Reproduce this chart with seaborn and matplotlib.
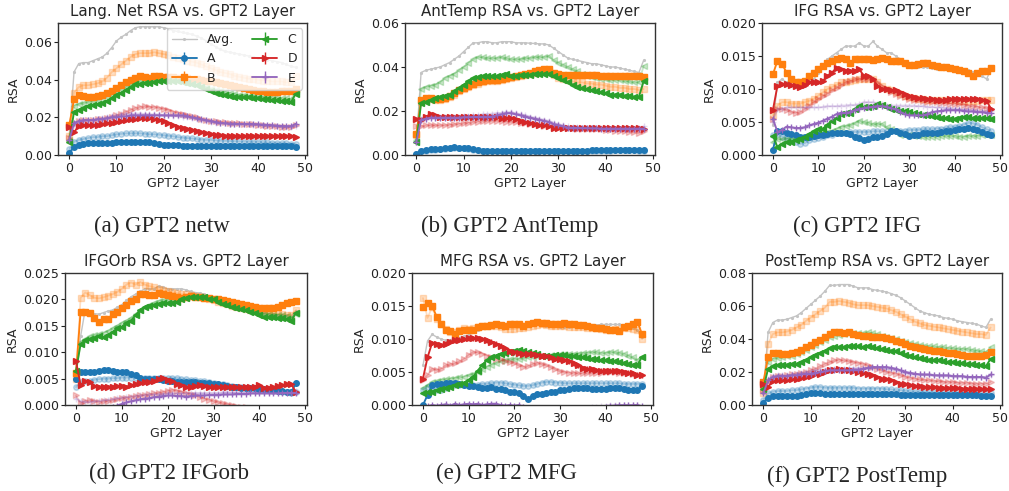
import numpy as np
import pandas as pd
import matplotlib
matplotlib.use("Agg")
import matplotlib.pyplot as plt
import seaborn as sns

# RSA values, in units of 1e-3, layers 0..48
layers = list(range(49))

# --- Lang. Net ---
netw_avg = [10, 44, 48.5, 49, 49, 50, 51, 52, 54, 57, 60.5, 62.5, 64, 66, 67.5, 68, 68, 68, 68, 68, 67.5, 67, 66, 65.5, 65, 64.5, 64, 63, 62, 60.5, 59, 57.5, 56, 55, 54.5, 54, 53.5, 53, 52.5, 52, 51.5, 51, 50.5, 50, 49.5, 49, 48, 47, 46.5]
netw_A = [1, 4.5, 5.5, 6, 6.3, 6.5, 6.5, 6.5, 6.5, 6.6, 7, 7, 7.1, 7, 7, 6.8, 6.8, 6.7, 6.3, 5.8, 5.5, 5.3, 5.2, 5.1, 5, 5, 5, 4.9, 4.9, 4.8, 4.8, 4.8, 4.8, 4.8, 4.8, 4.8, 4.8, 4.9, 4.9, 5, 5, 5, 5, 4.9, 4.9, 4.8, 4.7, 4.6, 4.5]
netw_B = [16, 29.5, 32, 31.5, 30.5, 31, 31.5, 32, 33, 34, 35.5, 37, 38.5, 40, 41, 42, 41.5, 41, 42, 42, 41.5, 41.5, 41.5, 41, 41, 41, 40.5, 40.5, 40, 39.5, 39, 38.5, 38, 37.5, 37, 36.5, 36, 35.5, 35, 34.5, 34, 34, 33.5, 33.5, 33.5, 34, 34, 34, 35]
netw_C = [7, 23, 24, 25, 26, 26.5, 27, 27.5, 28.5, 30, 32, 33, 34.5, 36, 37.5, 37.5, 38, 38, 38.5, 39, 39.5, 39.5, 39, 39, 38.5, 38, 37.5, 37, 36, 35, 34, 33, 32.5, 32, 31.5, 31, 31, 30.5, 30.5, 30, 30, 29.5, 29.5, 29, 29, 28.5, 28.5, 28, 32.5]
netw_D = [15, 12, 15.5, 16, 16, 16, 16, 16.5, 17, 17, 17.5, 18, 18.5, 19, 19, 19.5, 19.5, 19.5, 19, 18.5, 18, 17, 16, 15, 14.5, 14, 13.5, 12.5, 12, 11.5, 11, 10.5, 10.5, 10.3, 10.3, 10.2, 10.2, 10.2, 10.2, 10.2, 10.2, 10.2, 10.2, 10.2, 10.2, 10.2, 10.2, 10.1, 9.8]
netw_E = [8, 17, 18, 18.5, 18.5, 18.5, 19, 19, 19.5, 20, 20, 20.5, 20.5, 21, 21, 21, 21, 21, 21, 21, 21, 21, 21, 21, 21, 20.5, 20, 19.5, 19, 18.5, 18, 17.5, 17, 16.8, 16.7, 16.6, 16.5, 16.5, 16.5, 16.4, 16.3, 16.1, 16, 15.8, 15.6, 15.4, 15.3, 15.3, 16.5]
netw_A_f = [3, 7, 8, 8.5, 9, 9.5, 9.5, 10, 10, 10.5, 11, 11.2, 11.5, 11.5, 11.5, 11.5, 11.3, 11, 11, 10.8, 10.5, 10.2, 10, 9.5, 9.2, 9, 8.8, 8.5, 8.2, 8, 8, 7.8, 7.6, 7.5, 7.4, 7.3, 7.2, 7.1, 7, 7, 7, 6.8, 6.7, 6.6, 6.5, 6.4, 6.2, 6, 6]
netw_B_f = [10, 33, 36, 37, 37, 37.5, 38, 39, 41, 44, 46, 48, 50, 52, 53.5, 54, 54, 54, 54.5, 54, 53.5, 53, 52, 51.5, 51, 50, 49.5, 49, 48, 47, 46, 45, 44, 43.5, 43, 42, 41.5, 41, 40.5, 40.5, 40, 39.5, 39.5, 39, 39, 39, 38.5, 38.5, 42]
netw_C_f = [8, 26, 27, 27.5, 28, 28.5, 29, 30, 31, 32, 33.5, 35, 36, 37, 38.5, 39, 39.5, 39.5, 40, 40, 40, 40, 39.5, 39, 38.5, 38, 37.5, 37, 36.5, 36, 35, 34.5, 34, 33.5, 33, 32.5, 32, 32, 31.5, 31.5, 31, 31, 30.5, 30.5, 30.5, 30, 30, 29.5, 34]
netw_D_f = [9, 17, 18, 18.5, 18.5, 18.5, 19, 19, 19.5, 20, 21, 22, 23, 24, 25, 25.5, 25.8, 25.5, 25.5, 25, 24.5, 24, 23, 22.5, 22, 21, 20.5, 20, 19, 18.5, 18, 17.8, 17.5, 17.3, 17, 17, 16.8, 16.6, 16.4, 16.2, 16, 15.8, 15.6, 15.4, 15.2, 15, 15, 15, 16]
netw_E_f = [8, 16, 17.5, 18, 18.5, 18.5, 19, 19.5, 20, 20.5, 21, 21.5, 22, 22, 22, 22, 21.8, 21.6, 21.5, 21.5, 21.3, 21, 20.8, 20.5, 20.2, 20, 19.5, 19, 18.5, 18, 17.5, 17.2, 17, 16.8, 16.6, 16.5, 16.4, 16.3, 16.2, 16, 16, 15.8, 15.6, 15.4, 15.2, 15, 15, 15, 15.5]
netw_err = [0.3, 0.4, 0.4, 0.4, 0.3]

# --- AntTemp ---
ant_avg = [6, 37.5, 38.5, 39, 39.5, 40, 41, 42, 43.5, 45, 47, 49, 51, 51, 51.5, 51.5, 51, 51, 51.5, 51.5, 51.5, 51, 51, 51, 50.8, 50.7, 50.5, 50.5, 50, 48.5, 47, 45.5, 44, 43.5, 43, 42.5, 42, 41.5, 41.5, 41, 40.5, 40, 40, 39.5, 39, 38.5, 38, 37.5, 43]
ant_A = [0.5, 2, 2.3, 2.6, 2.8, 2.9, 3.1, 3.3, 3.5, 3.3, 3.2, 3, 2.7, 2.4, 2, 1.8, 1.7, 1.8, 1.8, 1.9, 1.9, 1.9, 1.9, 1.9, 1.9, 1.9, 1.9, 1.9, 1.9, 1.9, 1.9, 2, 2, 2, 2, 2, 2, 2.1, 2.1, 2.1, 2.2, 2.2, 2.3, 2.3, 2.3, 2.3, 2.3, 2.2, 2.2]
ant_B = [9.5, 25, 26, 26, 25.5, 25.5, 26, 27, 28, 29.5, 30.5, 31.5, 32.5, 33, 33.5, 34, 34, 34, 34.5, 35, 35.5, 36, 36.5, 37, 37.5, 38, 38.5, 39, 39, 37.5, 37, 36.5, 36.5, 36.5, 36.5, 36.5, 36.5, 36.3, 36.2, 36, 36, 36, 36, 36, 36, 36, 36, 36, 35.5]
ant_C = [6, 23.5, 24, 25, 26, 26.5, 27, 27.5, 29, 30.5, 32, 33.5, 35, 35.5, 36, 36, 36, 36, 36.5, 37, 36, 36, 36.5, 36.5, 36.5, 37, 37, 37, 37, 36, 35, 34, 33, 32, 31, 30.5, 30, 29.5, 29, 28.5, 28, 27.5, 27.5, 27.5, 27, 27, 26.5, 26.5, 33.5]
ant_D = [16.5, 16, 17.5, 18.5, 18, 17.5, 17.5, 17.5, 17.5, 17.5, 17.5, 17.5, 17.5, 17.5, 17.5, 17.5, 17.5, 17.5, 17, 17, 17, 16.5, 15.5, 15, 14.5, 14, 13.5, 13.5, 13, 12.5, 12.3, 12.2, 12.2, 12.2, 12.2, 12.3, 12.3, 12.3, 12.3, 12.3, 12.4, 12.4, 12.4, 12.4, 12.4, 12.4, 12.4, 12.3, 12]
ant_E = [6, 16, 16.5, 17, 17, 17, 17, 17, 17, 17, 17.2, 17.2, 17.3, 17.3, 17.4, 17.4, 17.5, 18, 18.5, 19, 19, 18.5, 18, 17.5, 17, 16.5, 16, 15.5, 15, 14, 13.5, 13, 12.5, 12.4, 12.3, 12.2, 12.2, 12.1, 12.1, 12, 12, 12, 12, 12, 12, 12, 12, 12, 12]
ant_A_f = [0.3, 1.8, 2, 2.3, 2.5, 2.7, 2.9, 3, 3.2, 3.1, 3, 2.8, 2.5, 2.2, 1.9, 1.7, 1.6, 1.6, 1.7, 1.7, 1.7, 1.7, 1.7, 1.7, 1.7, 1.7, 1.7, 1.8, 1.8, 1.8, 1.8, 1.8, 1.8, 1.8, 1.9, 1.9, 1.9, 1.9, 2, 2, 2, 2, 2.1, 2.1, 2.1, 2.1, 2.1, 2, 2]
ant_B_f = [9, 24, 25, 25.5, 25, 25, 25.5, 26.5, 27.5, 29, 30, 31, 32, 32.5, 33, 33.5, 33.5, 33.5, 34, 34.5, 35, 35.5, 36, 36.5, 37, 37.5, 37.5, 38, 38, 36.5, 35, 34.5, 34, 33.5, 33, 33, 32.5, 32.5, 32, 32, 31.5, 31, 31, 30.5, 30.5, 30, 30, 29.5, 30]
ant_C_f = [7, 30, 31, 31.5, 32, 33, 35, 36, 37, 38.5, 40, 42, 43.5, 44.5, 44.5, 44, 44, 44, 44.5, 44, 43.5, 43.5, 43.5, 44, 44, 44.5, 44.5, 44.5, 45, 43, 42, 41, 40, 39, 38, 37, 36, 35.5, 35, 34.5, 34.5, 34, 34, 34, 33.5, 33.5, 33, 33, 40.5]
ant_D_f = [13, 13, 13.5, 13.5, 13.5, 13.5, 13.5, 13.8, 14, 14.2, 14.5, 14.7, 15, 15.2, 15.4, 15.5, 15.5, 15.5, 15.3, 15.2, 15, 14.8, 14.6, 14.4, 14.2, 14, 13.7, 13.4, 13.1, 12.8, 12.5, 12.3, 12.2, 12.1, 12, 12, 11.9, 11.8, 11.7, 11.6, 11.5, 11.3, 11.1, 10.9, 10.7, 10.5, 10.3, 10, 11]
ant_E_f = [6, 16.5, 17, 17.5, 17.5, 17.5, 17.5, 17.5, 17.5, 17.5, 17.7, 17.8, 18, 18.2, 18.5, 18.7, 18.8, 19, 19.2, 19.5, 19.5, 19, 18.5, 18, 17.5, 17, 16.5, 16, 15.5, 14.5, 14, 13.5, 13, 12.8, 12.6, 12.5, 12.4, 12.3, 12.2, 12.1, 12, 12, 12, 12, 12, 12, 12, 12.5, 13]
ant_err = [0.2, 0.4, 0.4, 0.4, 0.3]

# --- IFG ---
ifg_avg = [4.5, 11, 11.5, 11, 10.5, 10.5, 10.5, 10.5, 11, 11.5, 12.5, 13.5, 14.5, 15, 15.5, 16, 16.5, 16.5, 16.5, 17, 16.5, 16.5, 17.2, 16.5, 16, 15.5, 15.5, 15, 14.5, 14, 13.7, 13.5, 13.3, 13.3, 13.3, 13.2, 13.1, 13, 13, 12.9, 12.8, 12.7, 12.8, 12.9, 12.6, 12.4, 12, 11.5, 13]
ifg_A = [0.8, 3.6, 3.6, 3.4, 3.2, 3, 2.8, 2.8, 2.8, 2.9, 3, 3, 3.2, 3.3, 3.3, 3.3, 3.4, 3.2, 2.8, 2.6, 2.3, 2.5, 2.7, 2.8, 2.9, 3.2, 3.7, 3.6, 3.4, 3.2, 2.9, 3, 3.1, 3.3, 3.4, 3.4, 3.4, 3.5, 3.6, 3.7, 3.8, 3.9, 4, 4.1, 4, 3.8, 3.5, 3.2, 3.1]
ifg_B = [12.2, 14.3, 13.8, 12.5, 11.5, 11, 11, 11.2, 12, 12.5, 13, 13.5, 14, 14.2, 14.5, 14.7, 14.5, 14, 14.5, 14.6, 14.5, 14.5, 14.4, 14.5, 14.7, 14.5, 14.3, 14.3, 14.2, 14, 13.7, 13.7, 13.8, 13.9, 13.9, 13.6, 13.5, 13.4, 13.3, 13.2, 13.1, 12.9, 12.8, 12.5, 12, 12.5, 12.7, 12.8, 13.2]
ifg_C = [2.9, 1.2, 1.7, 1.9, 2, 2.2, 2.5, 2.8, 3.2, 3.6, 3.9, 4, 4.6, 5.2, 5.6, 6.2, 6.3, 6.4, 6.9, 7.4, 7.2, 7.2, 7.4, 7.7, 7.6, 7.3, 7, 6.8, 6.6, 6.6, 6.5, 6.3, 6.2, 6.1, 6, 5.9, 5.8, 5.6, 5.6, 5.5, 5.5, 5.6, 5.7, 5.7, 5.6, 5.6, 5.6, 5.6, 5.5]
ifg_D = [6.8, 10.5, 10.7, 10.7, 10.6, 10.5, 10.3, 10.6, 11, 11, 11, 11.2, 12, 12.5, 13.2, 13, 12.8, 12.8, 12.8, 13, 12, 12, 11.5, 10.5, 10, 10, 9.8, 9.8, 9.5, 9.2, 9, 8.8, 8.6, 8.6, 8.5, 8.5, 8.3, 8.3, 8.4, 8.5, 8.5, 8.5, 8.5, 8.5, 8.5, 8.5, 8.4, 8.2, 7]
ifg_E = [5.5, 3.5, 3.8, 4.3, 4.2, 4.1, 4.1, 4.2, 4.5, 4.7, 4.9, 5.2, 5.5, 5.8, 6.2, 6.4, 6.4, 6.5, 6.8, 7, 7.1, 7.2, 7.3, 7.4, 7.4, 7.3, 7.1, 6.9, 6.5, 6.2, 6, 6, 6, 6, 6.2, 6.5, 6.6, 6.7, 6.8, 6.8, 6.8, 6.8, 6.7, 6.6, 6.6, 6.5, 6.5, 6.4, 6.3]
ifg_A_f = [3, 3.2, 2.8, 2.5, 2.3, 1.9, 1.7, 1.8, 2.2, 2.4, 2.6, 2.8, 3, 3.1, 3.3, 3.4, 3.4, 3.5, 3.5, 3.5, 3.5, 3.5, 3.6, 3.6, 3.6, 3.6, 3.6, 3.7, 3.7, 3.7, 3.8, 3.8, 3.8, 3.9, 3.9, 3.9, 4, 4, 4.1, 4.2, 4.3, 4.4, 4.6, 4.9, 4.8, 4.6, 4.2, 3.9, 3.6]
ifg_B_f = [6, 7.5, 8, 8, 7.8, 7.8, 7.8, 8, 8.2, 8.5, 9, 9.5, 10, 10.3, 10.6, 11, 11, 11.2, 11.3, 11.5, 11.5, 11.5, 11.5, 11, 10.5, 10, 9.8, 9.5, 9.3, 9, 8.8, 8.6, 8.5, 8.5, 8.4, 8.4, 8.3, 8.3, 8.3, 8.3, 8.3, 8.2, 8.2, 8.2, 8.2, 8.2, 8.3, 8.4, 8.4]
ifg_C_f = [2, 2.4, 2.4, 2.5, 2.5, 2.6, 2.7, 2.8, 2.9, 3, 3.2, 3.4, 3.5, 3.7, 4, 4.3, 4.4, 4.5, 4.8, 5.2, 5, 4.9, 4.7, 4.7, 4.7, 4.2, 3.9, 3.5, 3.1, 3, 3, 2.9, 2.9, 2.8, 2.8, 2.8, 2.8, 2.9, 2.9, 2.9, 2.9, 2.8, 2.8, 2.9, 2.9, 2.9, 3, 3, 3]
ifg_D_f = [5.5, 7, 7, 6.8, 6.5, 6.4, 6.5, 7, 7.5, 8, 8.5, 8.9, 9.3, 9.8, 10.2, 10.6, 11, 11.2, 11.5, 11.5, 11.5, 11.5, 11.5, 11, 10.5, 10, 9.5, 9.2, 9, 8.8, 8.5, 8.4, 8.3, 8.2, 8.1, 8, 8, 7.9, 7.9, 7.8, 7.8, 7.7, 7.6, 7.5, 7.4, 7.3, 7.2, 7.1, 7]
ifg_E_f = [5, 7, 7, 7.2, 7.2, 7.2, 7.2, 7.2, 7.2, 7.2, 7.2, 7.3, 7.4, 7.4, 7.4, 7.5, 7.5, 7.6, 7.6, 7.7, 8, 8, 8, 7.8, 7.7, 7.5, 7.5, 7.5, 7.5, 7.5, 7.5, 7.5, 7.4, 7.4, 7.3, 7.3, 7.2, 7.2, 7.1, 7.1, 7, 7, 6.9, 6.9, 6.8, 6.7, 6.7, 6.6, 6.6]
ifg_err = [0.15, 0.35, 0.15, 0.25, 0.1]

# --- IFGOrb ---
orb_avg = [6, 13, 18, 17.5, 17.3, 17.2, 17.5, 17.8, 18, 18.5, 19, 19.8, 20.5, 21, 21.5, 22, 22, 22, 22.5, 22.3, 22, 22, 22, 22, 21.8, 21.5, 21.3, 21.2, 21, 20.6, 20.3, 20, 19.7, 19.3, 19, 18.7, 18.4, 18.2, 18, 17.8, 17.6, 17.5, 17.3, 17.2, 17.1, 17, 17, 16.9, 17.8]
orb_A = [4.9, 6.3, 6.3, 6.3, 6.3, 6.4, 6.6, 6.6, 6.5, 6.3, 6.2, 6.2, 5.8, 5.6, 5.2, 5, 5, 5, 4.9, 4.7, 4.6, 4.5, 4.4, 4.4, 4.4, 4.3, 4.3, 4.2, 4.2, 4.1, 4, 3.9, 3.8, 3.6, 3.5, 3.4, 3.3, 3.3, 3.2, 3.2, 3.1, 3, 2.9, 2.8, 2.7, 2.6, 2.5, 2.4, 4.2]
orb_B = [6, 17.7, 17.7, 17.5, 16.5, 15.7, 16.3, 16.3, 17.2, 17.7, 18.3, 19, 19.7, 20.1, 21, 21, 20.8, 20.8, 21.3, 21, 20.8, 20.6, 20.4, 20.3, 20.4, 20.6, 20.5, 20.4, 20.3, 20.2, 20.1, 20, 19.9, 19.7, 19.5, 19.3, 19.2, 19, 18.8, 18.6, 18.4, 18.3, 18.3, 18.3, 18.6, 19, 19.4, 19.6, 19.7]
orb_C = [6.5, 11.5, 12.3, 12.5, 12.6, 13, 12.8, 13.3, 13.8, 14.5, 14.8, 15.5, 16, 17, 18, 18.6, 18.8, 18.9, 19.2, 19.3, 19.3, 19.4, 19.5, 20, 20.3, 20.5, 20.5, 20.5, 20.5, 20.1, 20.1, 19.6, 19.2, 18.9, 18.6, 18.3, 18.1, 17.9, 17.7, 17.4, 17.1, 16.7, 16.6, 16.6, 16.5, 16.4, 16.3, 16, 17.5]
orb_D = [8.3, 3.8, 4.5, 4.4, 3.6, 3.5, 3.5, 3.5, 3.5, 3.6, 3.6, 3.5, 3.7, 4, 4.2, 4.3, 4.4, 4.5, 4.9, 5.2, 4.7, 4.5, 4, 3.7, 3.4, 3.5, 3.6, 3.7, 3.6, 3.4, 3.4, 3.4, 3.4, 3.5, 3.4, 3.4, 3.4, 3.4, 3.4, 3.5, 3.7, 3.3, 3.3, 3.4, 3.6, 3.8, 3.9, 3.9, 2.4]
orb_E = [-1.5, -1.8, -1.6, -1.4, -1.2, -1, -0.8, -0.6, -0.4, -0.1, 0.2, 0.5, 0.7, 0.9, 1.1, 1.2, 1.3, 1.5, 1.6, 1.7, 1.8, 1.8, 1.7, 1.7, 1.6, 1.7, 1.8, 1.8, 1.8, 1.9, 1.9, 1.9, 2, 2, 2, 2.1, 2.1, 2.1, 2.2, 2.2, 2.2, 2.2, 2.2, 2.2, 2.2, 2.3, 2.3, 2.3, 2.3]
orb_A_f = [3.4, 4.3, 4.5, 4.6, 4.8, 4.9, 5, 5, 5.1, 5.1, 5.2, 5.2, 5.2, 5.2, 5.1, 5.1, 5.1, 5.1, 5.1, 5.1, 5.2, 5.2, 5.1, 5, 4.9, 4.8, 4.7, 4.6, 4.5, 4.3, 4.2, 4, 3.9, 3.8, 3.6, 3.5, 3.4, 3.3, 3.2, 3.1, 3, 2.9, 2.8, 2.7, 2.6, 2.5, 2.4, 2.3, 2.5]
orb_B_f = [5, 20.3, 21.3, 20.8, 20.3, 20.2, 20.4, 20.7, 21, 21.4, 22, 22.8, 23.2, 22.8, 23.3, 22.8, 22.5, 22.3, 22, 21.8, 21.5, 21.4, 21.2, 21, 21, 20.8, 20.6, 20.4, 20.2, 20, 19.8, 19.5, 19.3, 19.1, 18.8, 18.6, 18.4, 18.2, 18, 17.8, 17.6, 17.5, 17.4, 17.3, 17.3, 17.2, 17.1, 17, 18]
orb_C_f = [6, 12, 12.5, 13, 13.2, 13.4, 13.7, 14, 14.5, 15, 15.6, 16, 16.5, 17.2, 18, 18.5, 19, 19.4, 19.7, 19.8, 19.9, 20, 20, 20.2, 20.3, 20.4, 20.5, 20.4, 20.2, 20, 19.8, 19.5, 19.3, 19, 18.8, 18.5, 18.3, 18, 17.8, 17.6, 17.4, 17.3, 17.2, 17.1, 17.1, 17, 16.8, 16.5, 17.3]
orb_D_f = [1.8, 0.3, 0.8, 0.9, 0.7, 0.6, 0.7, 0.8, 0.9, 1.1, 1.3, 1.4, 1.6, 1.7, 1.8, 1.9, 2, 2.2, 2.3, 2.5, 2.7, 2.9, 2.7, 2.5, 2.3, 2, 1.8, 1.5, 1.2, 1, 0.7, 0.5, 0.3, 0.1, 0, -0.2, -0.3, -0.4, -0.5, -0.6, -0.7, -0.8, -0.9, -1, -1, -1.1, -1.1, -1.2, -1.2]
orb_E_f = [1.2, 0.7, 0.6, 0.6, 0.7, 0.8, 0.9, 1, 1.1, 1.3, 1.4, 1.5, 1.6, 1.7, 1.8, 1.9, 2, 2, 2.1, 2.1, 2.2, 2.2, 2.2, 2.2, 2.2, 2.2, 2.3, 2.3, 2.3, 2.3, 2.3, 2.3, 2.4, 2.4, 2.4, 2.4, 2.4, 2.4, 2.5, 2.5, 2.5, 2.5, 2.5, 2.5, 2.5, 2.5, 2.5, 2.6, 2.6]
orb_err = [0.15, 0.2, 0.25, 0.25, 0.1]

# --- MFG ---
mfg_avg = [6, 9.7, 10.7, 10.3, 10, 9.8, 9.9, 10, 10.2, 10.4, 10.6, 11, 11.3, 11.6, 11.8, 12, 12.1, 12.2, 12.3, 12.4, 12.5, 12.4, 12.3, 12.2, 12.2, 12.2, 12.1, 12, 12, 11.9, 11.8, 11.8, 11.8, 11.9, 11.9, 12, 12, 12.1, 12.1, 12.2, 12.2, 12.2, 12.2, 12.2, 12.1, 11.9, 11.7, 11.4, 10.3]
mfg_A = [0, 1.5, 3, 3.2, 3.2, 3.3, 3.4, 3.4, 3.2, 3, 2.9, 2.9, 2.8, 2.6, 2.6, 2.7, 2.5, 2.5, 2.3, 1.9, 1.9, 1.8, 1.3, 0.9, 1.3, 1.6, 1.7, 1.8, 1.9, 2, 2.2, 2.3, 2.5, 2.6, 2.6, 2.6, 2.6, 2.5, 2.4, 2.5, 2.5, 2.6, 2.6, 2.6, 2.5, 2.3, 2.2, 2.2, 2.9]
mfg_B = [14.8, 15.4, 15, 13.4, 12.3, 11.4, 11.2, 10.8, 11.2, 11.3, 11.3, 11.4, 11.8, 12, 12, 12.1, 12.2, 12.1, 12, 12.2, 12.2, 12.3, 12, 12.2, 12.5, 12.6, 12.5, 12.4, 12.3, 12.3, 12.2, 12.5, 12.3, 12.2, 12.1, 12.1, 11.9, 11.8, 11.7, 11.6, 11.5, 11.4, 11.3, 11.2, 11.8, 12, 12.3, 12.6, 10.7]
mfg_C = [1.8, 1.9, 2, 2.2, 2.4, 2.6, 2.8, 3, 3.2, 3.4, 3.8, 4.3, 5.2, 6.1, 6.8, 7.2, 7.5, 7.8, 7.9, 8, 8.2, 8.4, 8.2, 8, 7.9, 7.7, 7.5, 7.4, 7.5, 7.6, 7.6, 7.6, 7.5, 7.4, 7.3, 7.2, 7.1, 7, 6.9, 6.8, 6.8, 6.7, 6.6, 6.5, 6.4, 6.2, 6.1, 6.1, 7.3]
mfg_D = [4, 7.2, 9.4, 9.2, 9.1, 9.3, 9.6, 9.8, 9.9, 10, 10.1, 10.1, 10.1, 10, 9.8, 9.6, 9.3, 9, 8.6, 8.2, 8, 7.9, 7.8, 7.8, 7.7, 7.6, 7.5, 7.4, 7.2, 7, 6.9, 6.8, 6.6, 6.3, 6, 5.6, 5.5, 5.4, 5.3, 5.2, 5.2, 5.2, 5.2, 5.1, 5, 4.9, 4.8, 4.6, 4.5]
mfg_E = [-0.4, -0.2, 0, -0.1, 0, 0.1, -0.1, 0.2, 0, 0.1, 0.2, 0.1, 0.2, 0, 0.1, 0.2, 0.2, 0, -0.1, 0, -0.1, 0, -0.3, -0.5, -0.6, -0.7, -0.8, -0.8, -0.9, -0.9, -0.9, -0.9, -0.8, -0.8, -0.7, -0.7, -0.6, -0.5, -0.5, -0.4, -0.3, -0.2, -0.1, -0.05, -0.05, -0.05, -0.05, 0, -0.2]
mfg_A_f = [2.3, 2.8, 2.4, 2.2, 2.3, 2.6, 2.9, 3, 3.1, 3.1, 3.1, 3.1, 3.1, 3.2, 3.2, 3.3, 3.4, 3.4, 3.3, 3.2, 3.1, 3, 2.9, 2.9, 3, 3.2, 3.4, 3.5, 3.5, 3.4, 3.4, 3.3, 3.3, 3.3, 3.3, 3.3, 3.3, 3.3, 3.3, 3.3, 3.3, 3.3, 3.3, 3.3, 3.2, 3.2, 3.2, 3.2, 3.2]
mfg_B_f = [16.2, 13.2, 14.8, 13, 12.2, 11.5, 11, 11, 11.3, 11.6, 11.5, 11.6, 11.8, 11.9, 12, 12, 12, 11.8, 11.5, 11.5, 11.5, 11.6, 11.7, 11.8, 12, 12.1, 12.2, 12.1, 12, 12, 12, 11.9, 11.8, 11.8, 11.8, 11.8, 11.7, 11.7, 11.6, 11.5, 11.4, 11.4, 11.5, 11.5, 11.6, 11.6, 11.5, 11.3, 10]
mfg_C_f = [2.6, 3, 3.5, 3.7, 3.8, 3.9, 4, 4.1, 4.2, 4.3, 4.5, 4.7, 5, 5.4, 5.8, 6.1, 6.3, 6.6, 6.8, 6.9, 7, 7, 7.1, 7.2, 7.3, 7.4, 7.5, 7.5, 7.6, 7.6, 7.7, 7.7, 7.8, 7.8, 7.8, 7.9, 7.9, 8, 8, 7.9, 7.9, 8, 8, 7.9, 7.8, 7.5, 7.2, 6.8, 7.3]
mfg_D_f = [3.8, 4.5, 5.5, 5.3, 5.5, 6, 6.2, 6.3, 6.6, 7, 7.6, 8, 8, 7.8, 7.5, 7.2, 7, 6.9, 6.7, 6.5, 6.3, 6, 5.8, 5.9, 6.2, 6.4, 6.2, 6, 5.7, 5.4, 5.1, 5, 4.9, 4.9, 4.8, 4.8, 4.8, 4.8, 4.9, 4.9, 5, 5, 5, 4.9, 4.9, 4.8, 4.7, 4.6, 4.6]
mfg_E_f = [-0.6, -0.5, -0.4, -0.4, -0.3, -0.3, -0.3, -0.3, -0.3, -0.3, -0.3, -0.3, -0.3, -0.3, -0.3, -0.3, -0.3, -0.3, -0.3, -0.3, -0.3, -0.3, -0.3, -0.4, -0.4, -0.4, -0.5, -0.5, -0.5, -0.5, -0.5, -0.5, -0.5, -0.5, -0.5, -0.4, -0.4, -0.3, -0.3, -0.2, -0.1, 0.02, 0.03, 0.03, 0.02, 0.02, 0.02, 0.02, -0.3]
mfg_err = [0.15, 0.45, 0.2, 0.35, 0.15]

# --- PostTemp ---
post_avg = [7, 44, 50, 51.5, 51.5, 52, 53, 54, 56, 58.5, 61, 63.5, 66, 69, 72.5, 72.5, 73, 73, 73, 72, 71, 71, 71, 70, 69.5, 69, 68.5, 67.5, 66.5, 65, 63, 61, 59, 57, 56, 55, 54.5, 54, 53, 52.5, 52, 51, 50.5, 50, 49.5, 49, 48, 47, 52]
post_A = [1.5, 4.5, 5.5, 5.5, 5.5, 5.5, 5.5, 5.5, 6, 6.5, 7, 7, 7, 6.8, 6.8, 6.7, 6.7, 6.6, 6.6, 6.6, 6.6, 6.6, 6.6, 6.5, 6.5, 6.5, 6.4, 6.4, 6.4, 6.3, 6.3, 6.3, 6.2, 6.2, 6.2, 6.2, 6.2, 6.1, 6.1, 6.1, 6.1, 6.1, 6, 6, 6, 5.8, 5.7, 5.6, 5.5]
post_B = [14, 29, 31.5, 31.5, 31, 31, 31.5, 32, 33.5, 35, 36.5, 38, 39.5, 41, 43, 44, 44, 43.5, 44, 43, 42.5, 42, 42, 41.5, 41.5, 41, 40.5, 40, 39, 38, 37, 36, 35, 34.5, 34, 33.5, 33, 32.5, 32, 31.5, 31.5, 31, 30.5, 30, 30, 30, 30, 30.5, 32]
post_C = [10, 22, 23.5, 24, 24.5, 24.5, 25, 25, 26, 27.5, 29, 30.5, 31.5, 33, 34.5, 35, 35, 35, 35.5, 35.5, 35.5, 35, 35.5, 35, 34.5, 34, 33.5, 33, 32.5, 31.5, 30.5, 30, 29, 28.5, 28, 27.5, 27, 27, 26.5, 26, 26, 25.5, 25.5, 25, 25, 24.5, 24, 23.5, 28]
post_D = [13, 11, 14.5, 15, 15, 15, 15.5, 16, 16.5, 17, 17.5, 18.5, 19, 20, 21, 21.5, 22, 21.5, 21, 20.5, 20, 19.5, 19, 18, 17, 16, 15.5, 15, 14, 13, 12.5, 12, 11.5, 11.5, 11, 11, 11, 10.5, 10.5, 10.5, 10.5, 10.5, 10, 10, 10, 10, 10, 9.5, 9.5]
post_E = [7, 15, 17, 17.5, 17.5, 17.5, 18, 18, 18.5, 19, 19, 19.5, 20, 20.5, 21, 21, 21, 21, 21, 21.5, 21.5, 22, 22.5, 23, 23, 23, 23, 22.5, 22, 21, 20, 19.5, 19, 18.5, 18.5, 18.5, 18, 18, 18, 18, 17.5, 17.5, 17.5, 17, 17, 17, 17, 16.5, 18.5]
post_A_f = [3, 7, 8, 8.5, 8.5, 8.5, 9, 9, 9.5, 10, 10.5, 11, 11, 10.5, 10.5, 10.5, 10.5, 10.5, 10.5, 10.5, 10, 10, 10, 10, 10, 10, 9.5, 9.5, 9, 9, 8.5, 8.5, 8, 8, 8, 7.8, 7.8, 7.7, 7.6, 7.5, 7.5, 7.4, 7.3, 7.2, 7.2, 7.1, 7, 7, 7]
post_B_f = [7, 37, 43, 44, 44, 44.5, 45.5, 47, 48.5, 51, 53, 55, 57, 59, 62.5, 62.5, 63, 62.5, 62, 61, 60.5, 60.5, 60.5, 60, 59.5, 59, 58.5, 57.5, 56.5, 55, 53.5, 52, 50.5, 49.5, 48.5, 48, 47.5, 47, 46.5, 46, 45.5, 45, 44.5, 44, 43.5, 43, 43, 42.5, 47]
post_C_f = [11, 26, 28, 28.5, 29, 29.5, 30, 31, 32, 33.5, 35, 36.5, 38, 39.5, 41, 42, 42.5, 43, 43.5, 43.5, 43.5, 43.5, 44, 43.5, 43, 42, 41, 40.5, 40, 39, 38, 37.5, 37, 36.5, 36, 35.5, 35.5, 35, 35, 34.5, 34.5, 34, 34, 34, 33.5, 33, 32.5, 32, 35]
post_D_f = [9, 14, 17, 17.5, 17.5, 18, 18.5, 19, 19.5, 20, 21, 22, 23.5, 25, 26, 27, 27.5, 27, 26.5, 26, 25.5, 25, 24, 23, 22, 21, 20, 19.5, 19, 18, 17, 16.5, 16, 15.5, 15, 15, 14.5, 14.5, 14, 14, 14, 13.5, 13.5, 13.5, 13, 13, 13, 13, 14]
post_E_f = [8, 16, 17.5, 18, 18, 18, 18.5, 19, 19.5, 20, 20.5, 21, 21.5, 21.5, 22, 22, 22, 22, 22.2, 22.3, 22.5, 22.5, 22.5, 22.5, 22.5, 22.3, 22, 21.8, 21, 20.5, 19.5, 19, 18.8, 18.5, 18.3, 18, 18, 17.8, 17.7, 17.6, 17.5, 17.4, 17.3, 17.2, 17.1, 17, 17, 17, 18]
post_err = [0.3, 0.5, 0.5, 0.4, 0.4]

titles = ["Lang. Net RSA vs. GPT2 Layer", "AntTemp RSA vs. GPT2 Layer", "IFG RSA vs. GPT2 Layer",
          "IFGOrb RSA vs. GPT2 Layer", "MFG RSA vs. GPT2 Layer", "PostTemp RSA vs. GPT2 Layer"]
captions = ["(a) GPT2 netw", "(b) GPT2 AntTemp", "(c) GPT2 IFG",
            "(d) GPT2 IFGorb", "(e) GPT2 MFG", "(f) GPT2 PostTemp"]
ytops = [0.07, 0.06, 0.02, 0.025, 0.02, 0.08]
ysteps = [0.02, 0.02, 0.005, 0.005, 0.005, 0.02]
series_names = ["A", "B", "C", "D", "E"]

panels = [
    (netw_avg, [netw_A, netw_B, netw_C, netw_D, netw_E], [netw_A_f, netw_B_f, netw_C_f, netw_D_f, netw_E_f], netw_err),
    (ant_avg, [ant_A, ant_B, ant_C, ant_D, ant_E], [ant_A_f, ant_B_f, ant_C_f, ant_D_f, ant_E_f], ant_err),
    (ifg_avg, [ifg_A, ifg_B, ifg_C, ifg_D, ifg_E], [ifg_A_f, ifg_B_f, ifg_C_f, ifg_D_f, ifg_E_f], ifg_err),
    (orb_avg, [orb_A, orb_B, orb_C, orb_D, orb_E], [orb_A_f, orb_B_f, orb_C_f, orb_D_f, orb_E_f], orb_err),
    (mfg_avg, [mfg_A, mfg_B, mfg_C, mfg_D, mfg_E], [mfg_A_f, mfg_B_f, mfg_C_f, mfg_D_f, mfg_E_f], mfg_err),
    (post_avg, [post_A, post_B, post_C, post_D, post_E], [post_A_f, post_B_f, post_C_f, post_D_f, post_E_f], post_err),
]

colors = ["#1f77b4", "#ff7f0e", "#2ca02c", "#d62728", "#9467bd"]
markers = ["o", "s", "<", ">", "+"]

# axes boxes in pixels: left, right, top, bottom
boxes = [(58, 307, 23, 155), (405, 655, 23, 155), (762, 1002, 23, 155),
         (65, 307, 273, 405), (412, 653, 273, 405), (752, 1002, 273, 405)]
cap_pos = [(162, 226), (510, 226), (857, 226), (169, 473), (506, 473), (857, 476)]

sns.set_style("ticks")
plt.rcParams["font.family"] = ["DejaVu Sans"]
plt.rcParams["axes.edgecolor"] = "#333333"

W, H = 1009, 491
fig = plt.figure(figsize=(W / 100, H / 100), dpi=100)

for i, (avg, mains, fades, errs) in enumerate(panels):
    l, r, t, b = boxes[i]
    ax = fig.add_axes([l / W, 1 - b / H, (r - l) / W, (b - t) / H])
    scale = 1e-3

    sns.lineplot(x=layers, y=np.array(avg) * scale, ax=ax, color="#c4c4c4", lw=1.0,
                 marker=".", markersize=3, markeredgecolor="#c4c4c4", label="Avg.", legend=False)
    for vals, c, m in zip(fades, colors, markers):
        sns.lineplot(x=layers, y=np.array(vals) * scale, ax=ax, color=c, alpha=0.25, lw=1.3,
                     marker=m, markersize=4, markeredgecolor=c, markeredgewidth=1, legend=False)
    handles = []
    for vals, c, m, e, name in zip(mains, colors, markers, errs, series_names):
        h = ax.errorbar(layers, np.array(vals) * scale, yerr=e * scale, color=c, marker=m,
                        markersize=4, lw=1.35, elinewidth=1, capsize=0,
                        markeredgewidth=1, label=name)
        handles.append(h)

    ax.set_xlim(-2.4, 50.4)
    ax.set_ylim(0, ytops[i])
    ax.set_xticks([0, 10, 20, 30, 40, 50])
    yt = np.arange(0, ytops[i] + 1e-9, ysteps[i])
    ax.set_yticks(yt)
    fmt = "{:.3f}" if ysteps[i] < 0.01 else "{:.2f}"
    ax.set_yticklabels([fmt.format(v) for v in yt])
    ax.tick_params(labelsize=9, width=0.8, length=3.2, colors="#222222")
    ax.tick_params(axis="y", pad=1.2)
    ax.tick_params(axis="x", pad=2)
    for s in ax.spines.values():
        s.set_linewidth(1.0)
    ax.set_title(titles[i], fontsize=10.8, pad=5)
    ax.set_xlabel("GPT2 Layer", fontsize=9, labelpad=1)
    ax.set_ylabel("RSA", fontsize=9, labelpad=3)

    if i == 0:
        avg_line = ax.get_lines()[0]
        ax.legend([avg_line] + handles, ["Avg."] + series_names, ncol=2, loc="upper right",
                  fontsize=9, framealpha=0.8, borderaxespad=0.4, columnspacing=1.5)

    x, y = cap_pos[i]
    fig.text(x / W, 1 - y / H, captions[i], ha="center", va="center",
             family="Liberation Serif", fontsize=16.5)

fig.savefig("out.png", dpi=100)
